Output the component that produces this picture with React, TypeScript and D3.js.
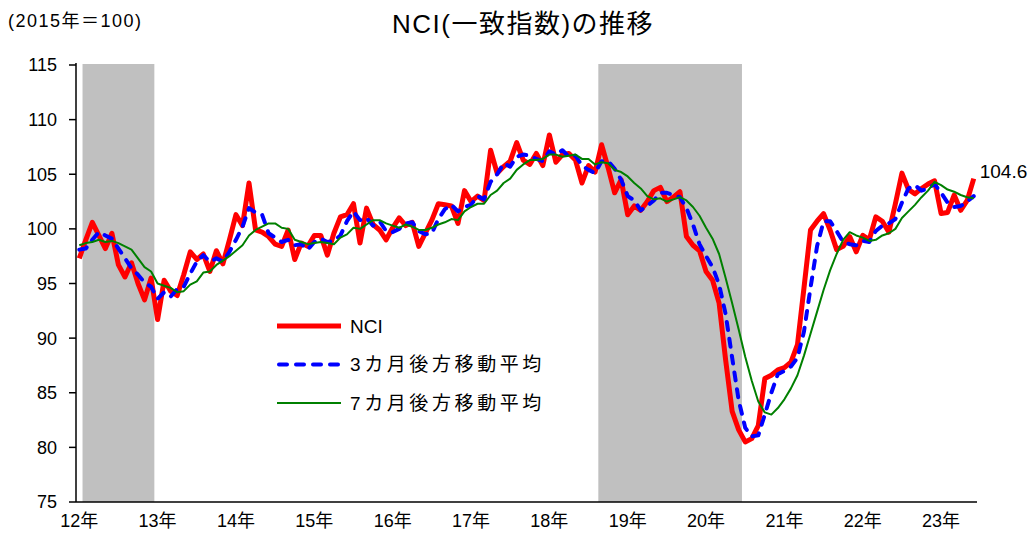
import React, { useRef, useEffect } from "react";
import * as d3 from "d3";

// x axis year labels (Jan of each year)
const yearLabels = ["12年", "13年", "14年", "15年", "16年", "17年", "18年", "19年", "20年", "21年", "22年", "23年"];
const yTicks = [75, 80, 85, 90, 95, 100, 105, 110, 115];

// NCI monthly, Jan 2012 - Jun 2023
const nci = [
  97.3, 99.0, 100.6, 99.4, 98.2, 99.6, 96.7, 95.6, 96.9, 95.0, 93.5, 95.5,
  91.7, 95.3, 94.3, 93.9, 95.8, 97.9, 97.2, 97.7, 96.1, 98.0, 96.8, 99.0,
  101.3, 100.3, 104.2, 99.9, 99.7, 99.3, 98.6, 98.4, 99.9, 97.2, 98.7, 98.4,
  99.4, 99.4, 97.6, 99.6, 101.1, 101.3, 102.3, 98.7, 101.9, 100.4, 99.9, 99.0,
  100.1, 101.0, 100.3, 100.6, 98.4, 99.6, 100.8, 102.3, 102.2, 102.1, 100.5, 103.5,
  102.5, 103.0, 102.6, 107.2, 105.1, 105.7, 106.2, 107.9, 106.3, 105.9, 106.9, 105.8,
  108.6, 106.1, 106.8, 106.9, 106.3, 104.2, 105.8, 105.2, 107.7, 105.6, 103.3, 104.5,
  101.3, 102.1, 101.7, 102.5, 103.5, 103.8, 102.5, 102.9, 103.4, 99.3, 98.5, 98.0,
  96.1, 95.3, 93.2, 88.0, 83.3, 81.6, 80.5, 80.8, 82.0, 86.3, 86.6, 87.1,
  87.3, 87.8, 89.4, 94.6, 99.9, 100.7, 101.4, 99.9, 98.1, 98.4, 99.3, 97.9,
  99.4, 99.0, 101.1, 100.7, 99.7, 102.3, 105.1, 103.6, 103.2, 103.7, 104.1, 104.4,
  101.4, 101.5, 103.1, 101.7, 102.6, 104.6,
];

// 3カ月後方移動平均
const ma3 = [
  98.1, 98.2, 99.0, 99.7, 99.4, 99.1, 98.2, 97.3, 96.4, 95.8, 95.1, 94.7,
  93.6, 94.2, 93.8, 94.5, 94.7, 95.9, 97.0, 97.6, 97.0, 97.3, 97.0, 97.9,
  99.0, 100.2, 101.9, 101.5, 101.3, 99.6, 99.2, 98.8, 99.0, 98.5, 98.6, 98.1,
  98.8, 99.1, 98.8, 98.9, 99.4, 100.7, 101.6, 100.8, 101.0, 100.3, 100.7, 99.8,
  99.7, 100.0, 100.5, 100.6, 99.8, 99.5, 99.6, 100.9, 101.8, 102.2, 101.6, 102.0,
  102.2, 103.0, 102.7, 104.3, 105.0, 106.0, 105.7, 106.6, 106.8, 106.7, 106.4, 106.2,
  107.1, 106.8, 107.2, 106.6, 106.7, 105.8, 105.4, 105.1, 106.2, 106.2, 105.5, 104.5,
  103.0, 102.6, 101.7, 102.1, 102.6, 103.3, 103.3, 103.1, 102.9, 101.9, 100.4, 98.6,
  97.5, 96.5, 94.9, 92.2, 88.2, 84.3, 81.8, 81.0, 81.1, 83.0, 85.0, 86.7,
  87.0, 87.4, 88.2, 90.6, 94.6, 98.4, 100.7, 100.7, 99.8, 98.8, 98.6, 98.5,
  98.9, 98.8, 99.8, 100.3, 100.5, 100.9, 102.4, 103.7, 104.0, 103.5, 103.7, 104.1,
  103.3, 102.4, 102.0, 102.1, 102.5, 103.0,
];

// 7カ月後方移動平均
const ma7 = [
  98.5, 98.7, 98.8, 99.0, 98.8, 98.9, 98.7, 98.4, 98.1, 97.3, 96.5, 96.1,
  95.0, 94.8, 94.6, 94.2, 94.3, 94.9, 95.2, 96.0, 96.1, 96.7, 97.1, 97.5,
  98.0, 98.5, 99.4, 99.9, 100.2, 100.5, 100.5, 100.1, 100.0, 99.0, 98.8, 98.6,
  98.7, 98.8, 98.7, 98.6, 99.2, 99.5, 100.1, 100.0, 100.4, 100.8, 100.8, 100.5,
  100.3, 100.1, 100.4, 100.2, 99.9, 99.9, 100.1, 100.4, 100.6, 100.9, 100.8, 101.6,
  102.0, 102.3, 102.3, 103.1, 103.5, 104.2, 104.6, 105.4, 105.9, 106.3, 106.3, 106.4,
  106.8, 106.8, 106.6, 106.7, 106.8, 106.4, 106.4, 105.9, 106.1, 106.0, 105.4, 105.2,
  104.8, 104.2, 103.7, 103.0, 102.7, 102.8, 102.5, 102.7, 102.9, 102.6, 102.0, 101.2,
  100.1, 99.1, 97.7, 95.5, 93.2, 90.8, 88.3, 86.1, 84.2, 83.2, 83.0, 83.6,
  84.4, 85.4, 86.6, 88.4, 90.4, 92.4, 94.4, 96.2, 97.7, 99.0, 99.7, 99.4,
  99.2, 98.9, 99.0, 99.4, 99.6, 100.0, 101.0, 101.6, 102.2, 102.9, 103.5, 104.3,
  104.0, 103.6, 103.4, 103.1, 102.9, 102.8,
];

// shaded periods (first and last month covered)
const recessions = [
  ["2012-02", "2012-12"],
  ["2018-09", "2020-06"],
];

const legendItems = [
  { label: "NCI", color: "#FF0000", width: 5, dash: null },
  { label: "3カ月後方移動平均", color: "#0000FF", width: 4, dash: "8 9" },
  { label: "7カ月後方移動平均", color: "#008000", width: 2, dash: null },
];

const FONT = "'Liberation Sans', 'Noto Sans CJK JP', sans-serif";

const App = () => {
  const svgRef = useRef(null);

  const drawChart = () => {
    const width = 1031;
    const height = 535;
    const left = 76, right = 977, top = 65, bottom = 502;

    const svg = d3.select(svgRef.current);
    svg.selectAll("*").remove();
    svg.attr("width", width).attr("height", height);

    const fmt = d3.timeFormat("%Y-%m");
    const months = nci.map((_, i) => fmt(new Date(2012, i, 1)));

    const x = d3.scaleBand().domain(months).range([left, right]).padding(0);
    const bw = x.bandwidth();
    const cx = (i) => x(months[i]) + bw / 2;
    const y = d3.scaleLinear().domain([75, 115]).range([bottom, top]);

    /* shaded bands */
    svg
      .append("g")
      .selectAll("rect")
      .data(recessions)
      .enter()
      .append("rect")
      .attr("x", (d) => x(d[0]))
      .attr("width", (d) => x(d[1]) + bw - x(d[0]))
      .attr("y", y(115) - 1)
      .attr("height", y(75) - y(115) + 1)
      .attr("fill", "#C0C0C0");

    /* lines */
    const line = d3
      .line()
      .x((d, i) => cx(i))
      .y((d) => y(d));

    const series = [
      { data: nci, ...legendItems[0] },
      { data: ma3, ...legendItems[1] },
      { data: ma7, ...legendItems[2] },
    ];
    series.forEach((s) => {
      svg
        .append("path")
        .datum(s.data)
        .attr("fill", "none")
        .attr("stroke", s.color)
        .attr("stroke-width", s.width)
        .attr("stroke-linejoin", "round")
        .attr("stroke-linecap", s.dash ? "round" : "butt")
        .attr("stroke-dasharray", s.dash)
        .attr("d", line);
    });

    /* axes */
    svg
      .append("line")
      .attr("x1", left).attr("x2", left)
      .attr("y1", top - 2).attr("y2", bottom)
      .attr("stroke", "#000").attr("stroke-width", 1.5);
    svg
      .append("line")
      .attr("x1", left).attr("x2", right)
      .attr("y1", bottom).attr("y2", bottom)
      .attr("stroke", "#000").attr("stroke-width", 1.5);

    const yAxis = svg.append("g");
    yTicks.forEach((t) => {
      yAxis
        .append("line")
        .attr("x1", left - 7).attr("x2", left)
        .attr("y1", y(t)).attr("y2", y(t))
        .attr("stroke", "#000").attr("stroke-width", 1.5);
      yAxis
        .append("text")
        .attr("x", 57)
        .attr("y", y(t))
        .attr("dy", "0.36em")
        .attr("text-anchor", "end")
        .style("font-family", FONT)
        .style("font-size", "18px")
        .text(t);
    });

    yearLabels.forEach((lab, k) => {
      svg
        .append("text")
        .attr("x", cx(k * 12))
        .attr("y", 527)
        .attr("text-anchor", "middle")
        .style("font-family", FONT)
        .style("font-size", "18px")
        .text(lab);
    });

    /* title and unit */
    svg
      .append("text")
      .attr("x", 523)
      .attr("y", 33)
      .attr("text-anchor", "middle")
      .style("font-family", FONT)
      .style("font-size", "26px")
      .style("letter-spacing", "1.5px")
      .text("NCI(一致指数)の推移");
    svg
      .append("text")
      .attr("x", 8)
      .attr("y", 27)
      .style("font-family", FONT)
      .style("font-size", "18px")
      .style("letter-spacing", "1.5px")
      .text("(2015年＝100)");

    /* last value label */
    const last = nci.length - 1;
    svg
      .append("text")
      .attr("x", cx(last) + 6)
      .attr("y", y(nci[last]) - 1)
      .style("font-family", FONT)
      .style("font-size", "19px")
      .text(nci[last].toFixed(1));

    /* legend */
    const lg = svg.append("g");
    legendItems.forEach((d, i) => {
      const ly = 326 + i * 38.5;
      lg.append("line")
        .attr("x1", d.dash ? 279 : 277).attr("x2", 341)
        .attr("y1", ly).attr("y2", ly)
        .attr("stroke", d.color)
        .attr("stroke-width", d.width)
        .attr("stroke-linecap", d.dash ? "round" : "butt")
        .attr("stroke-dasharray", d.dash);
      lg.append("text")
        .attr("x", 350)
        .attr("y", ly)
        .attr("dy", "0.36em")
        .style("font-family", FONT)
        .style("font-size", "19px")
        .style("letter-spacing", i === 0 ? "0px" : "3.6px")
        .text(d.label);
    });
  };

  useEffect(() => {
    drawChart();
  }, []);

  return (
    <div style={{ position: "absolute", left: 0, top: 0 }}>
      <svg ref={svgRef} style={{ display: "block", background: "#fff" }} />
    </div>
  );
};

export default App;
